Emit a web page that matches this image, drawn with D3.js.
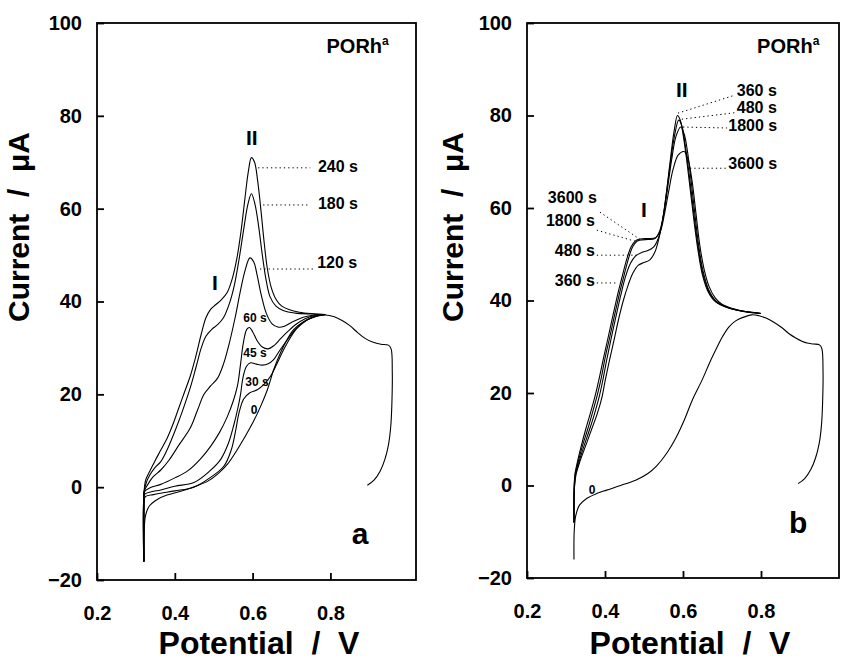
<!DOCTYPE html>
<html><head><meta charset="utf-8">
<script src="https://cdn.jsdelivr.net/npm/d3@7"></script>
<style>
body{margin:0;background:#fff}
svg{display:block}
text{font-family:"Liberation Sans",Arial,Helvetica,sans-serif;font-weight:bold;fill:#000}
</style>
</head><body>
<svg id="chart" width="842" height="663"></svg>
<script>
// ---------- axis ticks ----------
const xTickValues = [0.2, 0.4, 0.6, 0.8];
const yTickValues = [-20, 0, 20, 40, 60, 80, 100];
const xTitle = "Potential  /  V";
const yTitle = "Current  /  μA";

// ---------- panel a : [potential V, current µA] ----------
const a0 = [[0.3205,-16],[0.321,-10],[0.325,-6],[0.335,-4],[0.356,-2.6],[0.38,-1.7],[0.415,-0.9],[0.45,0.1],[0.485,1.3],[0.51,2.8],[0.536,5],[0.56,8],[0.58,10.8],[0.60,13.8],[0.62,17.3],[0.638,21],[0.655,25.5],[0.672,29],[0.69,32],[0.706,34],[0.73,35.6],[0.757,36.6],[0.787,37.1],[0.81,36.7],[0.83,35.9],[0.85,34.8],[0.87,33.3],[0.89,32],[0.91,31.2],[0.93,30.8],[0.949,30.6],[0.956,29.8],[0.959,25],[0.958,18],[0.955,13],[0.949,9],[0.94,6],[0.928,3.5],[0.912,1.5],[0.895,0.4]];
const a30 = [[0.3205,-16],[0.3205,-3],[0.325,-2],[0.345,-1.6],[0.364,-1.3],[0.40,-0.8],[0.449,0],[0.49,2],[0.526,4.5],[0.545,8],[0.556,12],[0.565,16],[0.577,19],[0.592,20.3],[0.612,21],[0.63,22.2],[0.646,23.9],[0.662,26.5],[0.679,29.5],[0.697,32.2],[0.715,34.3],[0.74,36],[0.765,36.9],[0.787,37.2]];
const a45 = [[0.3205,-16],[0.3205,-3],[0.323,-1.5],[0.34,-1],[0.364,-0.6],[0.40,0.2],[0.449,1],[0.49,3.5],[0.518,6],[0.538,9.5],[0.552,13.5],[0.562,17],[0.569,20],[0.575,23.5],[0.584,26],[0.595,26.8],[0.61,26.5],[0.625,26.3],[0.64,26.6],[0.654,27.5],[0.67,29.5],[0.689,31.7],[0.71,34],[0.735,35.8],[0.76,36.8],[0.787,37.2]];
const a60 = [[0.3205,-16],[0.3205,-3],[0.322,-1],[0.335,-0.2],[0.364,0.6],[0.40,2],[0.433,3.5],[0.465,6],[0.492,8.8],[0.515,11.8],[0.535,15.2],[0.55,18.5],[0.561,21.8],[0.569,26.5],[0.576,31],[0.585,34],[0.592,34.4],[0.60,33.5],[0.612,31.5],[0.625,30.2],[0.64,29.8],[0.655,30.5],[0.672,32],[0.69,33.5],[0.71,35],[0.735,36.3],[0.76,37],[0.787,37.2]];
const a120 = [[0.3205,-16],[0.3205,-4],[0.321,-1],[0.33,0.5],[0.345,2.3],[0.364,3.7],[0.385,5.8],[0.41,9],[0.44,12.8],[0.458,16.5],[0.475,20],[0.492,21.8],[0.51,23.5],[0.525,26.5],[0.54,31],[0.555,36.5],[0.568,42],[0.58,46.5],[0.593,49.4],[0.603,48.5],[0.612,45.5],[0.622,41.5],[0.635,37.5],[0.65,35.2],[0.665,34.5],[0.68,34.6],[0.70,35.5],[0.73,36.6],[0.76,37.1],[0.787,37.2]];
const a180 = [[0.3205,-16],[0.3205,-4],[0.321,-1],[0.326,0.8],[0.335,2.5],[0.35,4.3],[0.364,5.5],[0.38,8],[0.40,12],[0.42,16.5],[0.44,21.5],[0.455,26],[0.468,30],[0.48,32.5],[0.495,34],[0.51,35],[0.525,36.5],[0.54,39.5],[0.553,43.5],[0.565,49],[0.577,55.5],[0.588,61],[0.597,63.2],[0.606,61],[0.615,56.5],[0.625,50],[0.635,44.5],[0.645,41],[0.66,39],[0.68,38],[0.71,37.5],[0.75,37.3],[0.787,37.2]];
const a240 = [[0.3205,-16],[0.3205,-4],[0.321,-1],[0.325,1.5],[0.333,3],[0.348,5.5],[0.364,8],[0.38,10.5],[0.395,13.5],[0.41,17],[0.425,20.5],[0.44,24],[0.455,28.5],[0.468,33],[0.48,36.5],[0.492,38.3],[0.505,39.3],[0.52,40.4],[0.535,42],[0.548,45],[0.56,49.5],[0.57,55],[0.58,62],[0.589,68],[0.597,71],[0.605,70],[0.613,66],[0.621,60],[0.63,52.5],[0.638,47],[0.648,43],[0.66,40.5],[0.675,39],[0.695,38.2],[0.72,37.7],[0.75,37.4],[0.787,37.2]];

// ---------- panel b ----------
const b0 = [[0.3205,-16],[0.321,-10],[0.325,-6.5],[0.335,-4.2],[0.353,-2.8],[0.38,-1.7],[0.404,-1],[0.44,0],[0.48,1.2],[0.51,2.6],[0.532,4.2],[0.56,7.2],[0.583,10.5],[0.605,14.5],[0.624,18.5],[0.65,23],[0.668,26.5],[0.685,29.5],[0.70,32],[0.718,34.3],[0.735,35.6],[0.752,36.3],[0.777,36.9],[0.795,36.7],[0.813,36.2],[0.833,35.3],[0.854,34.1],[0.872,32.8],[0.889,31.9],[0.905,31.2],[0.918,30.8],[0.935,30.6],[0.95,30.4],[0.956,29.6],[0.959,25],[0.958,18],[0.955,13],[0.949,9],[0.94,6],[0.928,3.5],[0.912,1.5],[0.895,0.4]];
const b360 = [[0.3205,-8],[0.3205,-3],[0.322,0],[0.326,2.5],[0.335,5],[0.35,8.5],[0.365,12],[0.38,15.5],[0.392,19],[0.40,22.5],[0.41,26.5],[0.422,31],[0.435,36],[0.447,40],[0.46,43.5],[0.472,46],[0.485,47.6],[0.50,48.2],[0.515,48.8],[0.527,50.3],[0.537,53],[0.547,57],[0.557,63],[0.567,70],[0.577,76.5],[0.586,80],[0.593,79],[0.601,75.5],[0.61,70],[0.62,63],[0.63,56],[0.64,50],[0.65,45.5],[0.665,41.8],[0.685,39.6],[0.71,38.6],[0.74,37.9],[0.77,37.5],[0.80,37.2]];
const b480 = [[0.3205,-8],[0.3205,-3],[0.322,0],[0.325,2.5],[0.333,5],[0.346,8.5],[0.36,12],[0.373,15.5],[0.386,19.5],[0.395,23],[0.404,27],[0.415,31.5],[0.428,36.5],[0.44,41],[0.452,45],[0.465,48],[0.478,49.6],[0.494,50.4],[0.51,50.8],[0.525,51.6],[0.537,53.5],[0.548,57.5],[0.558,63.5],[0.568,70],[0.578,75.5],[0.589,79],[0.597,77.8],[0.605,74],[0.614,68.5],[0.624,61.5],[0.634,54.5],[0.644,48.8],[0.655,44.5],[0.67,41.3],[0.69,39.5],[0.715,38.5],[0.745,37.8],[0.775,37.4],[0.80,37.2]];
const b1800 = [[0.3205,-8],[0.3205,-3],[0.321,0],[0.324,2.5],[0.331,5],[0.342,8.5],[0.355,12],[0.367,15.5],[0.38,19.5],[0.391,23.5],[0.40,27.5],[0.412,32],[0.425,37],[0.437,41.5],[0.449,45.5],[0.46,49],[0.471,51.6],[0.482,52.8],[0.495,53.1],[0.51,53.2],[0.528,53.4],[0.54,55],[0.55,58.5],[0.56,64],[0.571,70.5],[0.582,75.5],[0.594,77.5],[0.603,76],[0.611,72.5],[0.62,66.5],[0.63,59],[0.64,52],[0.651,46.5],[0.665,42.5],[0.685,39.8],[0.71,38.6],[0.74,37.9],[0.77,37.5],[0.80,37.2]];
const b3600 = [[0.3205,-8],[0.3205,-3],[0.321,0],[0.323,2.5],[0.329,5],[0.339,8.5],[0.35,12],[0.362,15.5],[0.375,19.5],[0.386,23.5],[0.396,27.5],[0.408,32],[0.421,37],[0.433,41.5],[0.445,45.5],[0.456,49],[0.467,51.6],[0.478,52.9],[0.49,53.3],[0.51,53.4],[0.53,53.6],[0.542,55],[0.552,58.5],[0.563,63.5],[0.575,68.5],[0.588,71.5],[0.603,72.2],[0.613,70.5],[0.623,66],[0.633,59],[0.643,52],[0.654,46.8],[0.667,43],[0.683,40.5],[0.70,39.2],[0.73,38.2],[0.76,37.6],[0.80,37.2]];

const seriesA = [a0, a30, a45, a60, a120, a180, a240];
const seriesB = [b0, b360, b480, b1800, b3600];

// annotation texts
const annotA = [
  {t:"240 s", v:0.768, i:69.2, size:16, anchor:"start", lead:[[0.614,68.8],[0.748,68.8]]},
  {t:"180 s", v:0.768, i:61.2, size:16, anchor:"start", lead:[[0.627,60.8],[0.748,60.8]]},
  {t:"120 s", v:0.766, i:48.5, size:16, anchor:"start", lead:[[0.619,47],[0.755,47]]},
  {t:"II", v:0.598, i:75.2, size:21, anchor:"middle"},
  {t:"I", v:0.503, i:44, size:21, anchor:"middle"},
  {t:"60 s", v:0.606, i:36.4, size:12, anchor:"middle"},
  {t:"45 s", v:0.606, i:28.9, size:12, anchor:"middle"},
  {t:"30 s", v:0.611, i:22.7, size:12, anchor:"middle"},
  {t:"0", v:0.604, i:16.6, size:12, anchor:"middle"},
  {t:"a", v:0.876, i:-9.9, size:30, anchor:"middle"}
];
const annotB = [
  {t:"360 s", v:0.738, i:85.5, size:16, anchor:"start", lead:[[0.587,80.5],[0.733,84.4]]},
  {t:"480 s", v:0.738, i:81.8, size:16, anchor:"start", lead:[[0.597,79.2],[0.733,80.6]]},
  {t:"1800 s", v:0.716, i:77.9, size:16, anchor:"start", lead:[[0.600,77.5],[0.713,77.3]]},
  {t:"3600 s", v:0.716, i:69.7, size:16, anchor:"start", lead:[[0.618,68.6],[0.71,68.6]]},
  {t:"3600 s", v:0.379, i:62.2, size:16, anchor:"end", lead:[[0.387,59.1],[0.49,53.2]]},
  {t:"1800 s", v:0.374, i:57.4, size:16, anchor:"end", lead:[[0.379,55.2],[0.482,52.7]]},
  {t:"480 s", v:0.374, i:50.9, size:16, anchor:"end", lead:[[0.379,49.8],[0.482,49.8]]},
  {t:"360 s", v:0.374, i:44.4, size:16, anchor:"end", lead:[[0.379,43.8],[0.433,43.8]]},
  {t:"II", v:0.597, i:85.5, size:21, anchor:"middle"},
  {t:"I", v:0.50, i:59.6, size:21, anchor:"middle"},
  {t:"0", v:0.367, i:-1, size:12, anchor:"middle"},
  {t:"b", v:0.895, i:-8.1, size:30, anchor:"middle"}
];

const svg = d3.select("#chart");

function drawPanel(cfg){
  const x = d3.scaleLinear().domain(cfg.xDomain).range([cfg.left, cfg.right]);
  const y = d3.scaleLinear().domain([-20, 100]).range([cfg.bottom, cfg.top]);
  const g = svg.append("g");

  // frame
  g.append("rect").attr("x", cfg.left).attr("y", cfg.top)
    .attr("width", cfg.right - cfg.left).attr("height", cfg.bottom - cfg.top)
    .attr("fill", "none").attr("stroke", "#000").attr("stroke-width", 1.8);

  // x axis
  const xa = g.append("g").attr("transform", `translate(0,${cfg.bottom})`)
    .call(d3.axisBottom(x).tickValues(xTickValues).tickFormat(d3.format(".1f"))
      .tickSizeInner(-7).tickSizeOuter(0).tickPadding(26));
  xa.select(".domain").remove();
  xa.selectAll("line").attr("stroke-width", 1.8);
  xa.selectAll("text").attr("font-size", 20).attr("font-family", null);

  // y axis
  const ya = g.append("g").attr("transform", `translate(${cfg.left},0)`)
    .call(d3.axisLeft(y).tickValues(yTickValues)
      .tickSizeInner(-7).tickSizeOuter(0).tickPadding(15));
  ya.select(".domain").remove();
  ya.selectAll("line").attr("stroke-width", 1.8);
  ya.selectAll("text").attr("font-size", 20).attr("font-family", null);

  // titles
  g.append("text").attr("x", cfg.xTitleX).attr("y", 654).attr("font-size", 32)
    .attr("text-anchor", "middle").style("white-space", "pre").text(xTitle);
  g.append("text").attr("transform", `translate(${cfg.yTitleX},227) rotate(-90)`)
    .attr("font-size", 30).attr("text-anchor", "middle").attr("dy", "0.35em")
    .style("white-space", "pre").text(yTitle);

  // curves
  const line = d3.line().x(d => x(d[0])).y(d => y(d[1])).curve(d3.curveCatmullRom.alpha(0.5));
  g.append("g").selectAll("path").data(cfg.series).join("path")
    .attr("d", line).attr("fill", "none").attr("stroke", "#000").attr("stroke-width", 1.1)
    .attr("stroke-linejoin", "round");

  // annotations
  cfg.annot.forEach(a => {
    if (a.lead) {
      g.append("line").attr("x1", x(a.lead[0][0])).attr("y1", y(a.lead[0][1]))
        .attr("x2", x(a.lead[1][0])).attr("y2", y(a.lead[1][1]))
        .attr("stroke", "#000").attr("stroke-width", 1).attr("stroke-dasharray", "1.3,3");
    }
    g.append("text").attr("x", x(a.v)).attr("y", y(a.i)).attr("dy", "0.35em")
      .attr("font-size", a.size).attr("text-anchor", a.anchor).text(a.t);
  });

  // PORh^a
  const p = g.append("text").attr("x", x(0.79)).attr("y", y(93.5)).attr("font-size", 20);
  p.append("tspan").text("PORh");
  p.append("tspan").attr("dy", -8).attr("font-size", 12).text("a");
}

drawPanel({left:97, right:416, top:23, bottom:580, xDomain:[0.2, 1.02],
  series: seriesA, annot: annotA, xTitleX: 259, yTitleX: 18});
drawPanel({left:527, right:839, top:23, bottom:578, xDomain:[0.2, 1.0],
  series: seriesB, annot: annotB, xTitleX: 690, yTitleX: 452});
</script>
</body></html>
